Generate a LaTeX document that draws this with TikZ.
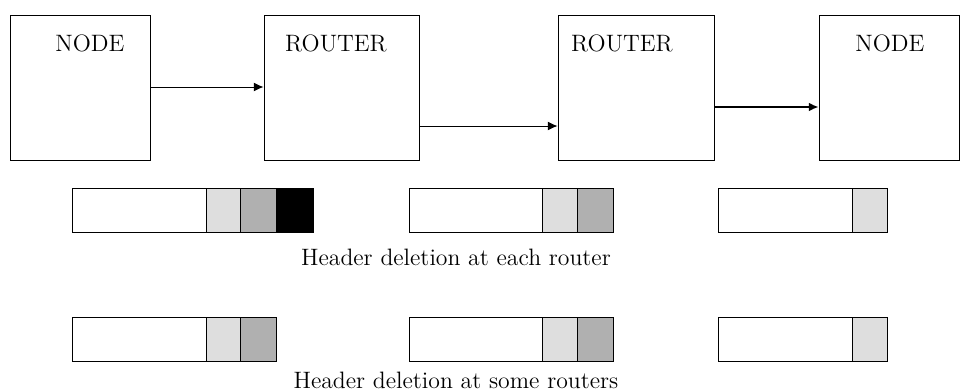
\documentclass[tikz,border=0pt]{standalone}
\usetikzlibrary{arrows.meta}

\begin{document}
\begin{tikzpicture}[x=0.02cm, y=-0.02cm,
    box/.style={shape=rectangle, draw=black, line width=0.5pt, minimum height=2.9cm, inner sep=0pt},
    boxtitle/.style={font=\fontsize{13.5}{16}\selectfont},
    caption/.style={font=\fontsize{13.5}{16}\selectfont},
    link/.style={-{Latex[length=5.5pt,width=5pt]}, line width=0.5pt},
    cell/.style={draw=black, line width=0.5pt}]
          \useasboundingbox (0,0) rectangle (960,392);

          % nodes
          \node[box, minimum width=2.8cm] at (80,87.5) (n1) {};
          \node[box, minimum width=3.1cm] at (341.5,87.5) (r1) {};
          \node[box, minimum width=3.12cm] at (636,87.5) (r2) {};
          \node[box, minimum width=2.8cm] at (889,87.5) (n2) {};

          \node[boxtitle] at (90,43) (n1txt) {NODE};
          \node[boxtitle] at (336,43) (r1txt) {ROUTER};
          \node[boxtitle] at (622,43) (r2txt) {ROUTER};
          \node[boxtitle] at (890,43) (n2txt) {NODE};

          % arcs
          \draw[link] (n1.east |- 0,87) -- (r1.west |- 0,87);
          \draw[link] (r1.east |- 0,126) -- (r2.west |- 0,126);
          \draw[link, line width=1pt] (r2.east |- 0,107) -- (n2.west |- 0,107);

          % headers, each router
          \draw[cell, fill=white] (72,188) rectangle (206,232);
          \draw[cell, fill=black!13] (206,188) rectangle (240,232);
          \draw[cell, fill=black!31] (240,188) rectangle (276,232);
          \draw[cell, fill=black] (276,188) rectangle (313,232);

          \draw[cell, fill=white] (409,188) rectangle (542,232);
          \draw[cell, fill=black!13] (542,188) rectangle (577,232);
          \draw[cell, fill=black!31] (577,188) rectangle (613,232);

          \draw[cell, fill=white] (718,188) rectangle (852,232);
          \draw[cell, fill=black!13] (852,188) rectangle (887,232);

          \node[caption] at (456,257) (cap1) {Header deletion at each router};

          % headers, some routers
          \draw[cell, fill=white] (72,317) rectangle (206,361);
          \draw[cell, fill=black!13] (206,317) rectangle (240,361);
          \draw[cell, fill=black!31] (240,317) rectangle (276,361);

          \draw[cell, fill=white] (409,317) rectangle (542,361);
          \draw[cell, fill=black!13] (542,317) rectangle (577,361);
          \draw[cell, fill=black!31] (577,317) rectangle (613,361);

          \draw[cell, fill=white] (718,317) rectangle (852,361);
          \draw[cell, fill=black!13] (852,317) rectangle (887,361);

          \node[caption] at (456,380) (cap2) {Header deletion at some routers};
        \end{tikzpicture}
\end{document}
